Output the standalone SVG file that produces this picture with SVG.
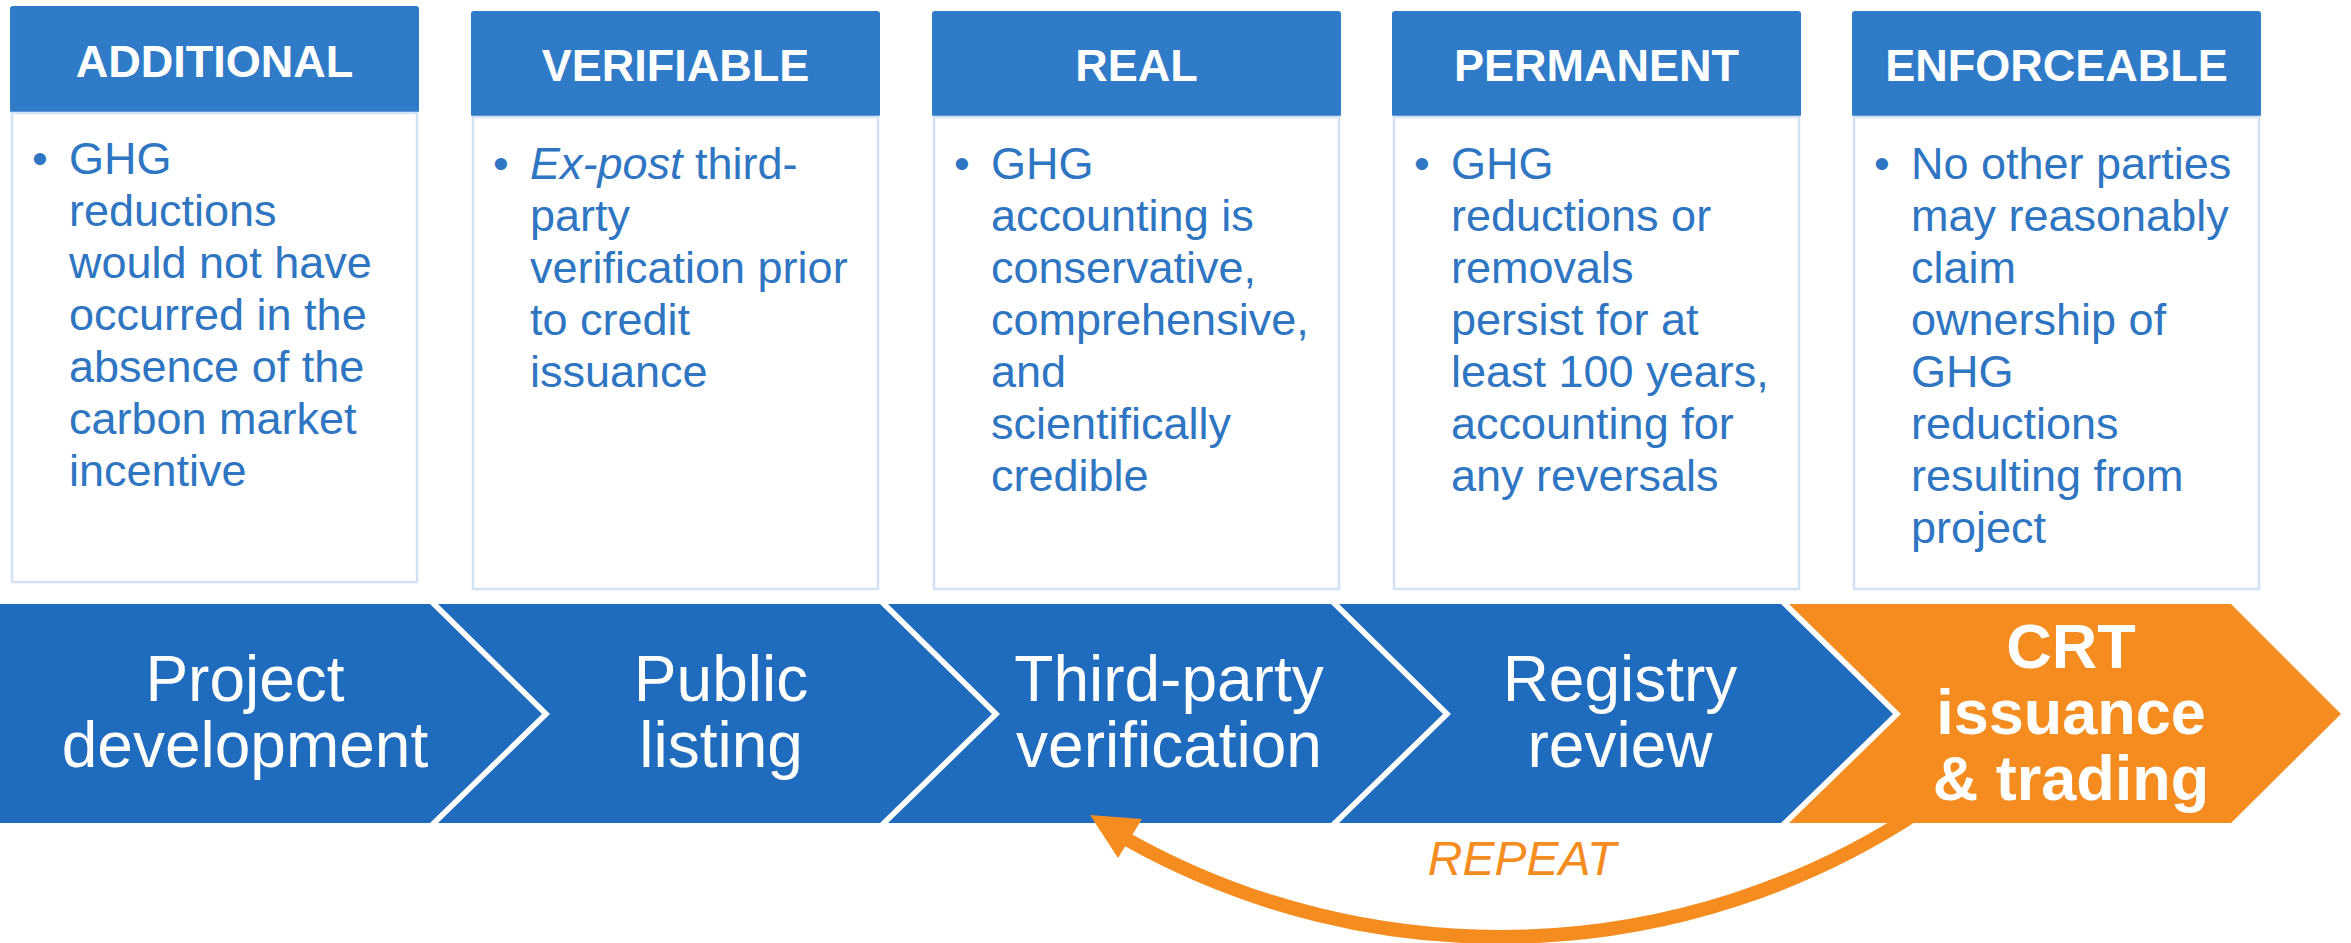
<svg xmlns="http://www.w3.org/2000/svg" width="2351" height="943" viewBox="0 0 2351 943">
<style>
.hdr{fill:#2F7BC8}
.body{fill:#ffffff;stroke:#D3E2F4;stroke-width:2.5}
.ht{font-family:"Liberation Sans",Arial,sans-serif;font-weight:bold;font-size:45px;fill:#ffffff;text-anchor:middle}
.bt{font-family:"Liberation Sans",Arial,sans-serif;font-size:45px;fill:#2E75C2}
.bul{font-family:"Liberation Sans",Arial,sans-serif;font-size:45px;fill:#2E75C2;text-anchor:middle}
.step{fill:#1F6BBD}
.last{fill:#F58C1F}
.at{font-family:"Liberation Sans",Arial,sans-serif;font-size:64px;fill:#ffffff;text-anchor:middle}
.ct{font-family:"Liberation Sans",Arial,sans-serif;font-weight:bold;font-size:63px;fill:#ffffff;text-anchor:middle}
.rep{fill:none;stroke:#F58C1F;stroke-width:14}
.rt{font-family:"Liberation Sans",Arial,sans-serif;font-style:italic;font-size:48px;fill:#F58C1F;text-anchor:middle}
</style>

<g id="box-additional">
<rect class="hdr" x="10" y="6" width="409" height="107" rx="3"/>
<rect class="body" x="12" y="113" width="405" height="469"/>
<text class="ht" x="214.5" y="76.5">ADDITIONAL</text>
<text class="bul" x="40" y="174">•</text>
<text class="bt" x="69" y="174">GHG<tspan x="69" dy="52">reductions</tspan><tspan x="69" dy="52">would not have</tspan><tspan x="69" dy="52">occurred in the</tspan><tspan x="69" dy="52">absence of the</tspan><tspan x="69" dy="52">carbon market</tspan><tspan x="69" dy="52">incentive</tspan></text>
</g>

<g id="box-verifiable">
<rect class="hdr" x="471" y="11" width="409" height="106" rx="3"/>
<rect class="body" x="473" y="117" width="405" height="472"/>
<text class="ht" x="675.5" y="81">VERIFIABLE</text>
<text class="bul" x="501" y="179">•</text>
<text class="bt" x="530" y="179"><tspan font-style="italic">Ex-post</tspan> third-<tspan x="530" dy="52">party</tspan><tspan x="530" dy="52">verification prior</tspan><tspan x="530" dy="52">to credit</tspan><tspan x="530" dy="52">issuance</tspan></text>
</g>

<g id="box-real">
<rect class="hdr" x="932" y="11" width="409" height="106" rx="3"/>
<rect class="body" x="934" y="117" width="405" height="472"/>
<text class="ht" x="1136.5" y="81">REAL</text>
<text class="bul" x="962" y="179">•</text>
<text class="bt" x="991" y="179">GHG<tspan x="991" dy="52">accounting is</tspan><tspan x="991" dy="52">conservative,</tspan><tspan x="991" dy="52">comprehensive,</tspan><tspan x="991" dy="52">and</tspan><tspan x="991" dy="52">scientifically</tspan><tspan x="991" dy="52">credible</tspan></text>
</g>

<g id="box-permanent">
<rect class="hdr" x="1392" y="11" width="409" height="106" rx="3"/>
<rect class="body" x="1394" y="117" width="405" height="472"/>
<text class="ht" x="1596.5" y="81">PERMANENT</text>
<text class="bul" x="1422" y="179">•</text>
<text class="bt" x="1451" y="179">GHG<tspan x="1451" dy="52">reductions or</tspan><tspan x="1451" dy="52">removals</tspan><tspan x="1451" dy="52">persist for at</tspan><tspan x="1451" dy="52">least 100 years,</tspan><tspan x="1451" dy="52">accounting for</tspan><tspan x="1451" dy="52">any reversals</tspan></text>
</g>

<g id="box-enforceable">
<rect class="hdr" x="1852" y="11" width="409" height="106" rx="3"/>
<rect class="body" x="1854" y="117" width="405" height="472"/>
<text class="ht" x="2056.5" y="81">ENFORCEABLE</text>
<text class="bul" x="1882" y="179">•</text>
<text class="bt" x="1911" y="179">No other parties<tspan x="1911" dy="52">may reasonably</tspan><tspan x="1911" dy="52">claim</tspan><tspan x="1911" dy="52">ownership of</tspan><tspan x="1911" dy="52">GHG</tspan><tspan x="1911" dy="52">reductions</tspan><tspan x="1911" dy="52">resulting from</tspan><tspan x="1911" dy="52">project</tspan></text>
</g>

<g id="step-project-development">
<polygon class="step" points="0,604 430,604 542,714 430,823 0,823"/>
<text class="at" x="245" y="701">Project<tspan x="245" dy="66">development</tspan></text>
</g>

<g id="step-public-listing">
<polygon class="step" points="438,604 880,604 992,714 880,823 438,823 550,714"/>
<text class="at" x="721" y="701">Public<tspan x="721" dy="66">listing</tspan></text>
</g>

<g id="step-third-party-verification">
<polygon class="step" points="888,604 1331,604 1443,714 1331,823 888,823 1000,714"/>
<text class="at" x="1169" y="701">Third-party<tspan x="1169" dy="66">verification</tspan></text>
</g>

<g id="step-registry-review">
<polygon class="step" points="1339,604 1781,604 1893,714 1781,823 1339,823 1451,714"/>
<text class="at" x="1620" y="701">Registry<tspan x="1620" dy="66">review</tspan></text>
</g>

<g id="step-crt-issuance">
<polygon class="last" points="1789,604 2231,604 2341,714 2231,823 1789,823 1901,714"/>
<text class="ct" x="2071" y="668">CRT<tspan x="2071" dy="66">issuance</tspan><tspan x="2071" dy="66">&amp; trading</tspan></text>
</g>

<g id="connectors">
<path class="rep" d="M 1918 812 A 762 762 0 0 1 1128 840"/>
<polygon fill="#F58C1F" points="1090,815 1142,819 1118,858"/>
<text class="rt" x="1522" y="875">REPEAT</text>
</g>
</svg>
